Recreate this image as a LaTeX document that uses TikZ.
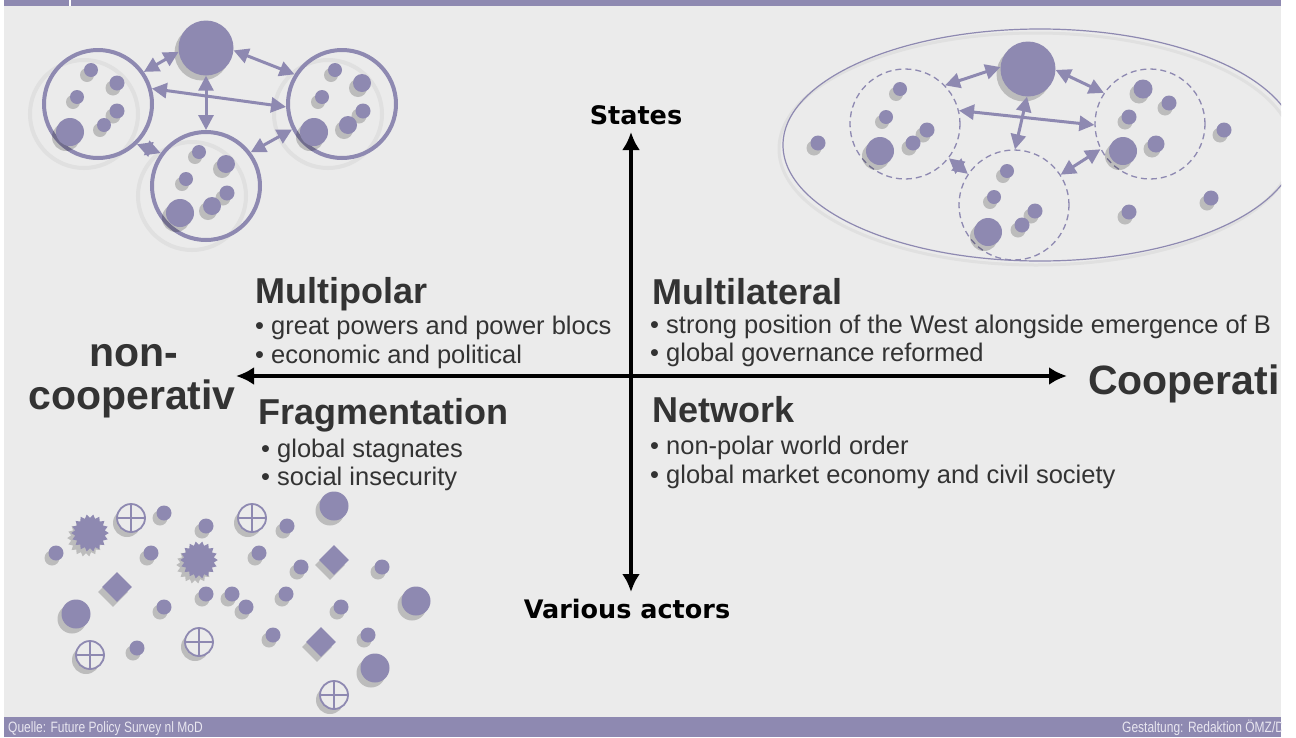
\documentclass[tikz,border=0pt]{standalone}
\usepackage{fontspec}
\setmainfont{Liberation Sans}
\newfontfamily\axisfont{DejaVu Sans}
\usetikzlibrary{arrows.meta,shapes.geometric,shadows}
\definecolor{lav}{HTML}{8E89B1}
\definecolor{panel}{HTML}{EBEBEB}
\definecolor{ink}{HTML}{333333}
\definecolor{foot}{HTML}{E8E6F0}
\tikzset{
  dshadow/.style={drop shadow={shadow xshift=-4pt,shadow yshift=-5pt,opacity=.2,fill=black}},
  dot/.style={circle,fill=lav,inner sep=0pt,dshadow},
  hub/.style={circle,fill=lav,inner sep=0pt,minimum size=55pt,dshadow},
  ring/.style={circle,draw=lav,line width=4pt,inner sep=0pt,minimum size=108pt},
  dring/.style={circle,draw=lav,line width=1.3pt,dash pattern=on 6pt off 4pt,inner sep=0pt,minimum size=110pt},
  biarr/.style={{Triangle[length=15pt,width=15pt]}-{Triangle[length=15pt,width=15pt]},draw=lav,line width=3pt},
  axis/.style={{Latex[length=18pt,width=18pt]}-{Latex[length=18pt,width=18pt]},line width=4pt},
  burst/.style={star,star points=18,star point ratio=.8,fill=lav,inner sep=0pt,minimum size=30pt,dshadow},
  xring/.style={circle,draw=lav,line width=1.8pt,fill=panel,inner sep=0pt,minimum size=28pt,dshadow,
    path picture={\draw[lav,line width=1.5pt] (path picture bounding box.north) -- (path picture bounding box.south)
      (path picture bounding box.east) -- (path picture bounding box.west);}},
  gem/.style={diamond,fill=lav,inner sep=0pt,minimum size=30pt,dshadow},
  ttl/.style={anchor=base west,inner sep=0pt,text=ink,font=\fontsize{36}{40}\selectfont\bfseries},
  bul/.style={anchor=base west,inner sep=0pt,text=ink,font=\fontsize{25.5}{28}\selectfont},
  pole/.style={anchor=base,inner sep=0pt,text=ink,font=\fontsize{41}{44}\selectfont\bfseries},
  axlab/.style={anchor=base,inner sep=0pt,font=\axisfont\fontsize{25.5}{28}\selectfont\bfseries},
  foottext/.style={inner sep=0pt,text=foot,font=\fontsize{15}{15}\selectfont}
}
\begin{document}
\begin{tikzpicture}[x=1pt,y=-1pt]
  \useasboundingbox (0,0) rectangle (1296,737);
  \clip (0,0) rectangle (1281,737);
  \fill[panel] (4,6) rectangle (1281,717);
  \fill[lav] (4,0) rectangle (1281,6);
  \fill[white] (69,0) rectangle (71,6);
  \fill[lav] (4,717) rectangle (1281,737);
  \node[foottext,anchor=base west] (src) at (8,732) {\scalebox{.8}[1]{Quelle: Future Policy Survey nl MoD}};
  \node[foottext,anchor=base west] (design) at (1122,732) {\scalebox{.8}[1]{Gestaltung: Redaktion ÖMZ/D}};

  \begin{scope}[shift={(-14,10)},black!12]
    \foreach \x/\y in {98/104,342/104,206/186} \draw[line width=4pt] (\x,\y) circle (54);
  \end{scope}
  \node[hub] (pw) at (206,48) {};
  \node[ring] (bl) at (98,104) {};
  \node[ring] (br) at (342,104) {};
  \node[ring] (bb) at (206,186) {};
  \draw[biarr] (pw.188) -- (bl.35);
  \draw[biarr] (pw.-5) -- (br.148);
  \draw[biarr] (pw.-90) -- (bb.90);
  \draw[biarr] (bl.16) -- (br.183);
  \draw[biarr] (bl.-46) -- (bb.144);
  \draw[biarr] (br.207) -- (bb.37);
  \foreach \x/\y/\r [count=\i] in {91/70/7,117/83/7.5,77/97/7,117/111/7.5,104/125/7,70/132/14,
      335/70/7,362/83/9,322/97/7,363/111/7.5,348/125/9,314/132/14,
      199/152/7,226/164/9,186/179/7,227/193/7.5,212/206/9,180/213/14}
    \node[dot,minimum size={2*\r}] (p\i) at (\x,\y) {};

  \draw[black!12,line width=3pt] (1036,149) ellipse [x radius=257,y radius=116];
  \node[ellipse,draw=lav,line width=1.2pt,inner sep=0pt,minimum width=514pt,minimum height=232pt] (world) at (1040,145) {};
  \node[hub] (un) at (1028,69) {};
  \node[dring] (ul) at (905,124) {};
  \node[dring] (ur) at (1150,124) {};
  \node[dring] (ub) at (1014,205) {};
  \draw[biarr] (un.176) -- (ul.44);
  \draw[biarr] (un.-2) -- (ur.146);
  \draw[biarr] (un.-92) -- (ub.89);
  \draw[biarr] (ul.14) -- (ur.181);
  \draw[biarr] (ur.207) -- (ub.33);
  \draw[biarr] (ul.-38) -- (ub.146);
  \foreach \x/\y/\r [count=\i] in {900/89/7,886/117/7,927/130/7.5,913/143/7.5,880/151/14,818/143/7.5,
      1143/89/9.5,1169/103/7.5,1129/117/7.5,1156/144/8.5,1123/151/14,1224/130/7.5,1211/198/7.5,1129/212/7.5,
      1007/171/7,994/197/7,1035/211/7.5,1022/225/7.5,988/232/14}
    \node[dot,minimum size={2*\r}] (m\i) at (\x,\y) {};

  \foreach \x/\y [count=\i] in {164/513,206/526,287/526,56/553,151/553,259/553,301/567,382/567,206/594,
      232/594,246/607,286/594,164/607,341/607,273/635,368/635,137/648}
    \node[dot,minimum size=15pt] (s\i) at (\x,\y) {};
  \foreach \x/\y [count=\i] in {334/506,76/614,416/601,375/668}
    \node[dot,minimum size=29pt] (l\i) at (\x,\y) {};
  \node[burst] (b1) at (90,533) {};
  \node[burst] (b2) at (199,560) {};
  \foreach \x/\y [count=\i] in {131/518,252/518,90/655,199/642,334/695}
    \node[xring] (x\i) at (\x,\y) {};
  \foreach \x/\y [count=\i] in {117/587,334/560,321/642}
    \node[gem] (g\i) at (\x,\y) {};

  \coordinate (wtip) at (236,376);
  \coordinate (etip) at (1067,376);
  \coordinate (ntip) at (631,132);
  \coordinate (stip) at (631,592);
  \draw[axis] (wtip) -- (etip);
  \draw[axis] (stip) -- (ntip);
  \node[axlab] (states) at (636,124) {States};
  \node[axlab] (actors) at (627,618) {Various actors};
  \node[pole] (non) at (134,366) {non-};
  \node[pole] (noncoop) at (132,409) {cooperativ};
  \node[pole,anchor=base west] (coop) at (1088,394) {Cooperati};

  \node[ttl] (mpol) at (255,303) {Multipolar};
  \node[bul] (mpol1) at (255,334) {• great powers and power blocs};
  \node[bul] (mpol2) at (255,363) {• economic and political};
  \node[ttl] (frag) at (258,424) {Fragmentation};
  \node[bul] (frag1) at (261,457) {• global stagnates};
  \node[bul] (frag2) at (261,485) {• social insecurity};
  \node[ttl] (mlat) at (652,304) {Multilateral};
  \node[bul] (mlat1) at (650,333) {• strong position of the West alongside emergence of B};
  \node[bul] (mlat2) at (650,361) {• global governance reformed};
  \node[ttl] (net) at (652,422) {Network};
  \node[bul] (net1) at (650,454) {• non-polar world order};
  \node[bul] (net2) at (650,483) {• global market economy and civil society};
\end{tikzpicture}
\end{document}
